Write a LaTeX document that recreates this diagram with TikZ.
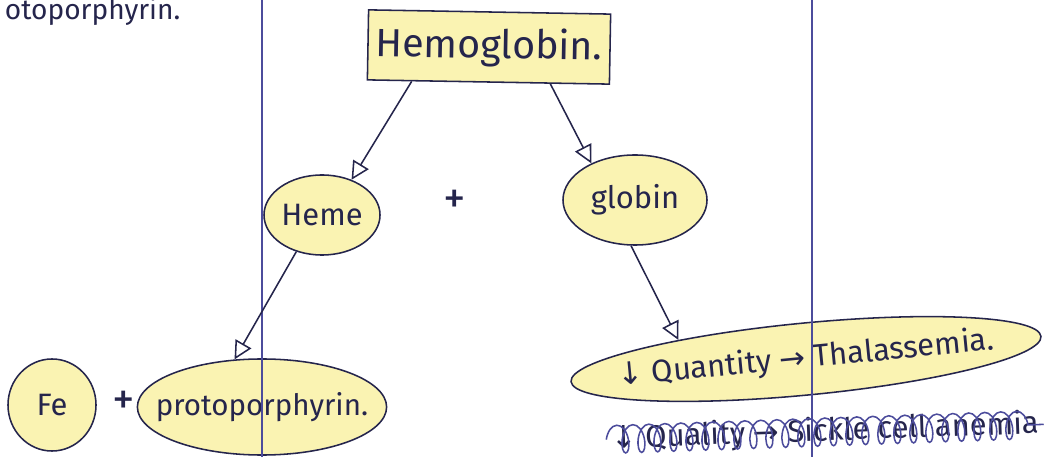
\documentclass[tikz,border=0pt]{standalone}
\usepackage{fontspec}
\setmainfont{Fira Sans}
\newfontfamily\arrowfont{DejaVu Sans}
\usepackage{tikz}
\usetikzlibrary{arrows.meta, shapes.geometric, decorations.pathmorphing}
\definecolor{ink}{HTML}{25254C}
\definecolor{margin}{HTML}{4C4C9C}
\definecolor{marker}{HTML}{FAF3B2}

\begin{document}
\begin{tikzpicture}[x=0.025cm, y=-0.025cm,
    bubble/.style={ellipse, draw=ink, line width=1.1pt, fill=marker, inner sep=0pt, text=ink, font=\fontsize{22}{26}\selectfont},
    titlebox/.style={rectangle, draw=ink, line width=1.1pt, fill=marker, minimum width=6.05cm, minimum height=1.75cm, text=ink, font=\fontsize{28}{32}\selectfont},
    sign/.style={text=ink, font=\fontsize{32}{36}\selectfont},
    arrow/.style={draw=ink, line width=1.1pt, -{Triangle[open, length=4.5mm, width=4.5mm]}}]

    % page
    \useasboundingbox (0,0) rectangle (1064,457);
    \clip (0,0) rectangle (1064,457);
    \fill[white] (0,0) rectangle (1064,457);

    % margin lines
    \coordinate (m1top) at (262,0);
    \coordinate (m1bot) at (262,457);
    \coordinate (m2top) at (812,0);
    \coordinate (m2bot) at (812,457);

    % text left over from the line above
    \node [anchor=base west, text=ink, font=\fontsize{20}{24}\selectfont] (prev) at (0,20) {otoporphyrin.};

    % Hemoglobin
    \node [titlebox, rotate=-1] (hb) at (489,47) {Hemoglobin.};

    % Heme + globin
    \node [bubble, minimum width=2.9cm, minimum height=2cm] (heme) at (322,215) {Heme};
    \node [sign] (plus1) at (455,202) {+};
    \node [bubble, minimum width=3.6cm, minimum height=2.25cm] (globin) at (635,200) {globin};

    % Fe + protoporphyrin
    \node [bubble, minimum width=2.2cm, minimum height=2.3cm] (fe) at (52,405) {Fe};
    \node [sign] (plus2) at (124,403) {+};
    \node [bubble, inner xsep=-0.45cm, minimum width=6.1cm, minimum height=2.4cm, font=\fontsize{21}{24}\selectfont] (proto) at (262,407) {protoporphyrin.};

    % Thalassemia
    \node [bubble, rotate=5.5, inner xsep=-1.2cm, minimum width=11.8cm, minimum height=1.8cm, font=\fontsize{22}{26}\selectfont] (qty) at (806,359) {{\arrowfont ↓} Quantity {\arrowfont →} Thalassemia.};
    \node [text=ink, rotate=2, font=\fontsize{22}{26}\selectfont] (struck) at (825,432) {{\arrowfont ↓} Quality {\arrowfont →} Sickle cell anemia};

    % lines
    \draw [margin, line width=1pt] (m1top) -- (m1bot);
    \draw [margin, line width=1pt] (m2top) -- (m2bot);

    % Arrows
    \draw [arrow] (hb.205) -- (heme.50);
    \draw [arrow] (hb.330) -- (globin.140);
    \draw [arrow] (heme.235) -- (proto.120);
    \draw [arrow] (globin.265) -- (qty.166);

    % crossed out
    \draw [margin, line width=1.1pt, decorate, decoration={coil, amplitude=3.5mm, segment length=4mm}] (struck.west) -- (struck.east);
\end{tikzpicture}
\end{document}
